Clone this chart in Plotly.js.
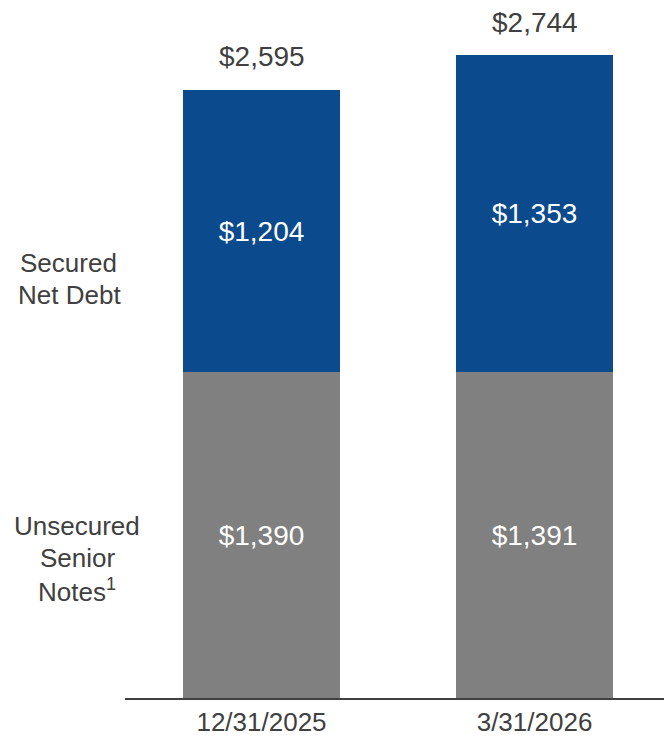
<!DOCTYPE html>
<html>
<head>
<meta charset="utf-8">
<script src="https://cdn.plot.ly/plotly-3.0.1.min.js"></script>
<style>html,body{margin:0;padding:0;background:#fff;}#chart{width:664px;height:743px;}</style>
</head>
<body>
<div id="chart"></div>
<script>
var categories = ["12/31/2025", "3/31/2026"];
var unsecuredNotes = [1390, 1391];
var securedNetDebt = [1204, 1353];
var totals = [2595, 2744];
var seriesLabels = ["Secured", "Net Debt", "Unsecured", "Senior", "Notes<sup>1</sup>"];

var FONT = "'Liberation Sans', Arial, Helvetica, sans-serif";
var TEXT = "#404040";
var W = 664, H = 743, ML = 125, MB = 45;
var PW = W - ML, PH = H - MB;

function fmt(v) { return "$" + v.toLocaleString("en-US"); }

var traces = [
  {
    type: "bar", x: categories, y: unsecuredNotes, name: "Unsecured Senior Notes",
    marker: {color: "#808080"},
    text: unsecuredNotes.map(fmt), texttemplate: "%{text}", textposition: "inside",
    insidetextanchor: "middle", textfont: {family: FONT, size: 28, color: "#ffffff"},
    hoverinfo: "none", cliponaxis: false
  },
  {
    type: "bar", x: categories, y: securedNetDebt, name: "Secured Net Debt",
    marker: {color: "#0B4A8D"},
    text: securedNetDebt.map(fmt), texttemplate: "%{text}", textposition: "inside",
    insidetextanchor: "middle", textfont: {family: FONT, size: 28, color: "#ffffff"},
    hoverinfo: "none", cliponaxis: false
  }
];

var annotations = totals.map(function (t, i) {
  return {
    x: categories[i], y: t, xref: "x", yref: "y", text: fmt(t),
    showarrow: false, xanchor: "center", yanchor: "middle", yshift: 33,
    font: {family: FONT, size: 28, color: TEXT}
  };
});

// left-side series labels (pixel centres converted to paper coordinates)
var labelPos = [[68.5, 263], [69, 294.5], [77, 526], [77, 558], [77, 590]];
seriesLabels.forEach(function (s, i) {
  annotations.push({
    x: (labelPos[i][0] - ML) / PW, y: 1 - labelPos[i][1] / PH,
    xref: "paper", yref: "paper", text: s, showarrow: false,
    xanchor: "center", yanchor: "middle",
    font: {family: FONT, size: 26, color: TEXT}
  });
});

var layout = {
  width: W, height: H,
  margin: {l: ML, r: 0, t: 0, b: MB},
  paper_bgcolor: "#ffffff", plot_bgcolor: "#ffffff",
  barmode: "stack", bargap: 0.425,
  showlegend: false,
  font: {family: FONT, color: TEXT},
  xaxis: {
    type: "category", range: [-0.5, -0.5 + PW / 273],
    showline: true, linecolor: "#404040", linewidth: 2,
    showgrid: false, zeroline: false, ticks: "",
    tickfont: {family: FONT, size: 26, color: TEXT}
  },
  yaxis: {
    range: [0, PH / ((698 - 55) / 2744)],
    visible: false, showgrid: false, zeroline: false
  },
  annotations: annotations
};

Plotly.newPlot("chart", traces, layout, {displayModeBar: false, staticPlot: true});
</script>
</body>
</html>
